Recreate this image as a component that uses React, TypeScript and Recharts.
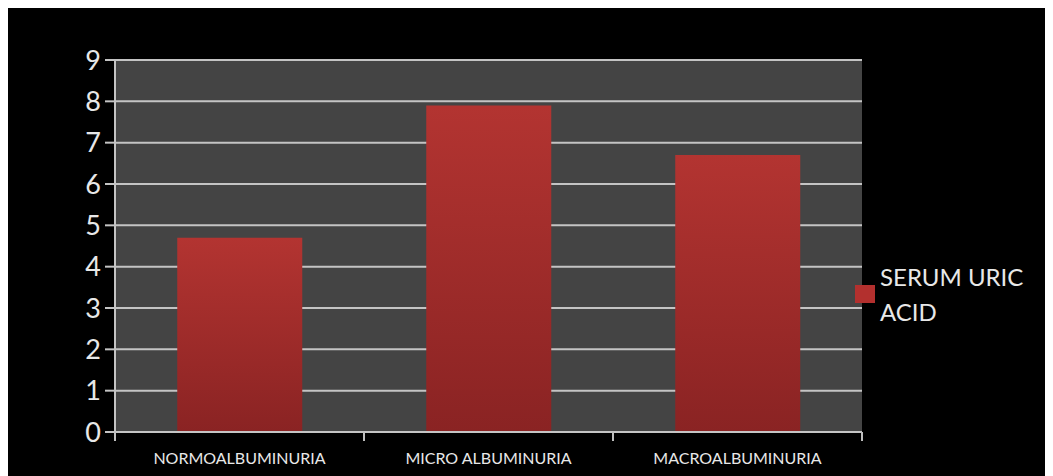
import { Bar, BarChart, CartesianGrid, XAxis, YAxis } from "recharts";

const categories = ["NORMOALBUMINURIA", "MICRO ALBUMINURIA", "MACROALBUMINURIA"];
const serumUricAcid = [4.7, 7.9, 6.7];
const yTicks = [0, 1, 2, 3, 4, 5, 6, 7, 8, 9];

const data = categories.map((name, i) => ({ name, value: serumUricAcid[i] }));

const W = 1047;
const H = 468;
const PLOT_LEFT = 109;
const PLOT_RIGHT = 856;
const HALF_BAND = (PLOT_RIGHT - PLOT_LEFT) / categories.length / 2;
const FONT = "Lato, 'Open Sans', sans-serif";

function CategoryTick(props: any) {
  const { x, y, payload, index } = props;
  return (
    <g>
      {index === 0 && <line x1={x - HALF_BAND} x2={x - HALF_BAND} y1={y - 8} y2={y + 1} stroke="#bfbfbf" strokeWidth={2} />}
      <line x1={x + HALF_BAND} x2={x + HALF_BAND} y1={y - 8} y2={y + 1} stroke="#bfbfbf" strokeWidth={2} />
      <text x={x} y={y + 24} textAnchor="middle" fill="#e8e8e8" fontSize={16} fontFamily={FONT}>
        {payload.value}
      </text>
    </g>
  );
}

export default function App() {
  return (
    <div style={{ position: "relative", width: W, height: H, background: "#000", marginLeft: -2 }}>
      <BarChart width={W} height={H} data={data} margin={{ top: 52, right: W - PLOT_RIGHT, bottom: 0, left: 0 }} barCategoryGap="25%">
        <defs>
          <linearGradient id="barFill" x1="0" y1="0" x2="0" y2="1">
            <stop offset="0%" stopColor="#b33431" />
            <stop offset="100%" stopColor="#8a2323" />
          </linearGradient>
        </defs>
        <CartesianGrid vertical={false} fill="#444444" stroke="#c4c4c4" strokeWidth={2} />
        <XAxis
          dataKey="name"
          height={44}
          axisLine={{ stroke: "#c4c4c4", strokeWidth: 2 }}
          tickLine={false}
          tick={<CategoryTick />}
          interval={0}
        />
        <YAxis
          width={PLOT_LEFT}
          domain={[0, 9]}
          ticks={yTicks}
          interval={0}
          axisLine={{ stroke: "#c4c4c4", strokeWidth: 2 }}
          tickLine={{ stroke: "#c4c4c4", strokeWidth: 2 }}
          tickSize={10}
          tickMargin={4}
          tick={{ fill: "#e8e8e8", fontSize: 27, fontFamily: FONT }}
        />
        <Bar dataKey="value" fill="url(#barFill)" isAnimationActive={false} />
      </BarChart>
      <div style={{ position: "absolute", left: 849, top: 251, display: "flex", alignItems: "center", fontFamily: FONT }}>
        <div style={{ width: 20, height: 18, background: "#b3302e", marginRight: 5 }} />
        <div style={{ color: "#e8e8e8", fontSize: 24, lineHeight: "35px" }}>
          SERUM URIC
          <br />
          ACID
        </div>
      </div>
    </div>
  );
}
